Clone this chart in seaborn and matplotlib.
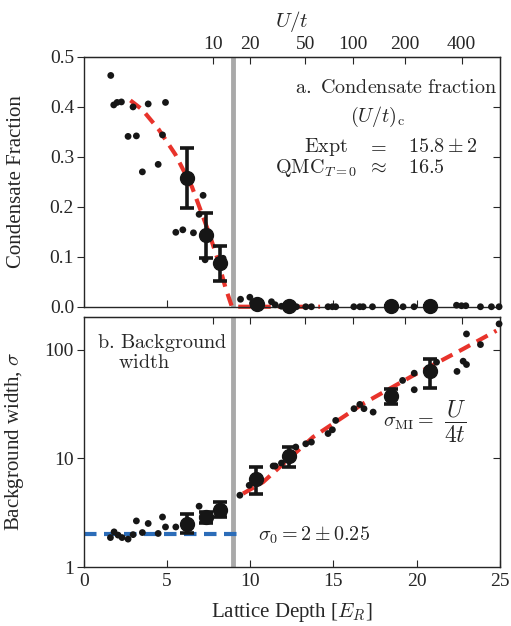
"""condensate fraction and background width vs lattice depth"""
import numpy as np
import matplotlib
matplotlib.use("Agg")
import matplotlib.pyplot as plt
import matplotlib.ticker as mticker
import seaborn as sns

# --- data ---
# U/t axis: tick values and the lattice depth where each sits
ut_ticks = [10, 20, 50, 100, 200, 400]
ut_depth = [7.75, 10.0, 13.3, 16.2, 19.3, 22.7]

# a. condensate fraction, single shots
cf_depth = [1.62, 1.80, 2.0, 2.26, 2.66, 2.96, 3.16, 3.52, 3.87, 4.47,
            4.73, 4.91, 5.53, 5.95, 6.59, 6.93, 7.17, 7.29, 8.37, 9.42,
            9.98, 10.14, 11.28, 11.5, 11.88, 12.78, 13.34, 13.68, 14.68, 14.94,
            15.14, 16.23, 16.59, 16.79, 17.35, 19.19, 19.85, 22.4, 22.7, 22.96,
            23.84, 24.5, 24.96]
cf_frac = [0.463, 0.404, 0.409, 0.41, 0.341, 0.40, 0.342, 0.27, 0.406, 0.285,
           0.344, 0.409, 0.149, 0.154, 0.148, 0.185, 0.223, 0.094, 0.097, 0.015,
           0.019, 0.007, 0.01, 0.004, 0.001, 0, 0, 0, 0, 0,
           0, 0, 0, 0, 0, 0, 0, 0.003, 0.002, 0.002,
           0, 0, 0]
# averaged points with error bars
cf_avg_depth = [6.23, 7.37, 8.19, 10.4, 12.34, 18.49, 20.79]
cf_avg_frac = [0.257, 0.143, 0.087, 0.005, 0.001, 0.001, 0.001]
cf_avg_err = [0.06, 0.045, 0.035, 0.004, 0.0, 0.0, 0.0]
# fit curve
cf_fit_depth = [2.8, 3.5, 4.5, 5.5, 6.5, 7.5, 8.0, 8.5, 8.9, 9.5, 14.2]
cf_fit_frac = [0.413, 0.395, 0.355, 0.305, 0.24, 0.15, 0.10, 0.04, 0.0, 0.0, 0.0]

# b. background width, single shots
bw_depth = [1.6, 1.82, 2.06, 2.3, 2.66, 2.96, 3.16, 3.52, 3.87, 4.47,
            4.73, 4.91, 5.53, 6.93, 9.38, 9.94, 11.38, 11.5, 11.88, 12.74,
            13.34, 13.68, 14.68, 14.94, 15.14, 16.24, 16.59, 16.84, 17.39, 19.16,
            19.86, 19.86, 21.2, 22.43, 22.8, 23.0, 23.0, 23.84, 24.96]
bw_sigma = [1.87, 2.11, 1.97, 1.87, 1.81, 1.99, 2.66, 2.08, 2.52, 2.04,
            2.89, 2.34, 2.34, 3.63, 4.58, 5.65, 8.5, 8.5, 9.05, 12.7,
            13.6, 14.1, 16.9, 18.3, 22.3, 28.6, 31.3, 28.6, 26.6, 52,
            42.7, 60.6, 76.5, 62.9, 78.1, 72.8, 139, 111, 172]
bw_avg_depth = [6.23, 7.37, 8.19, 10.34, 12.36, 18.49, 20.83]
bw_avg_sigma = [2.48, 2.89, 3.33, 6.51, 10.5, 37.1, 64.1]
bw_avg_lo = [2.04, 2.52, 2.89, 4.75, 8.3, 31.3, 44.5]
bw_avg_hi = [3.11, 3.21, 3.97, 8.33, 12.7, 43.6, 82.2]
# sigma_MI = U/4t line and sigma_0 line
mi_depth = [9.57, 10.78, 13.78, 16.79, 19.79, 22.79, 24.8]
mi_sigma = [4.74, 6.06, 15.7, 31.8, 57.7, 101, 149]
s0_depth = [0, 9.4]
s0_sigma = [2, 2]

transition = 8.95

# --- style ---
sns.set_style("ticks")
plt.rcParams["font.family"] = ["Liberation Serif", "DejaVu Serif"]
plt.rcParams["mathtext.fontset"] = "cm"
plt.rcParams["font.size"] = 14

dot_c = "#161616"
red = "#e8332b"
blue = "#2b6cb8"
grey = "#a9a9a9"
ann = 14.5  # annotation size

# U/t <-> lattice depth, from the tick positions: ln(U/t) linear in sqrt(V)
b, a = np.polyfit(np.sqrt(ut_depth), np.log(ut_ticks), 1)


def depth_to_ut(v):
    v = np.clip(np.asarray(v, dtype=float), 0, None)
    return np.exp(a + b * np.sqrt(v))


def ut_to_depth(u):
    u = np.clip(np.asarray(u, dtype=float), 1e-6, None)
    return np.clip((np.log(u) - a) / b, 0, None) ** 2


fig = plt.figure(figsize=(5.11, 6.26), dpi=100)
ax1 = fig.add_axes([0.164, 0.510, 0.814, 0.399])
ax2 = fig.add_axes([0.164, 0.094, 0.814, 0.400])

# ---------- a. condensate fraction ----------
ax1.axvline(transition, color=grey, lw=3.5, zorder=1)
sns.lineplot(x=cf_fit_depth, y=cf_fit_frac, ax=ax1, color=red, lw=3,
             linestyle=(0, (3, 1.8)), zorder=2, clip_on=False)
sns.scatterplot(x=cf_depth, y=cf_frac, ax=ax1, s=24, color=dot_c,
                edgecolor="none", zorder=3, clip_on=False)
ax1.errorbar(cf_avg_depth, cf_avg_frac, yerr=cf_avg_err, fmt="o", ms=10,
             color=dot_c, elinewidth=2.6, capsize=5, capthick=2.6,
             zorder=4, clip_on=False)

ax1.set_xlim(0, 25)
ax1.set_ylim(0, 0.5)
ax1.set_yticks([0.0, 0.1, 0.2, 0.3, 0.4, 0.5])
ax1.yaxis.set_major_formatter(mticker.FormatStrFormatter("%.1f"))
ax1.set_xticks([0, 5, 10, 15, 20, 25])
ax1.tick_params(axis="x", direction="in", labelbottom=False, length=5)
ax1.tick_params(axis="y", direction="out", length=5, pad=2)
ax1.set_ylabel("Condensate Fraction", fontsize=15)
ax1.yaxis.set_label_coords(-0.14, 0.5)

top = ax1.secondary_xaxis("top", functions=(depth_to_ut, ut_to_depth))
top.set_xticks(ut_ticks)
top.set_xticklabels([str(t) for t in ut_ticks])
top.xaxis.set_minor_locator(mticker.NullLocator())
top.tick_params(direction="in", length=5, pad=3)
top.set_xlabel("$U/t$", labelpad=6, fontsize=15)

r1 = ax1.secondary_yaxis("right")
r1.set_yticks([0.1, 0.2, 0.3, 0.4])
r1.tick_params(direction="in", length=5, labelright=False)

kw = dict(transform=ax1.transAxes, va="baseline", fontsize=ann)
ax1.text(0.507, 0.856, r"$\mathrm{a.\ Condensate\ fraction}$", ha="left", **kw)
ax1.text(0.64, 0.74, r"$(U/t)_{\rm c}$", ha="left", **kw)
ax1.text(0.635, 0.62, r"$\mathrm{Expt}$", ha="right", **kw)
ax1.text(0.704, 0.62, "$=$", ha="center", **kw)
ax1.text(0.779, 0.62, r"$15.8 \pm 2$", ha="left", **kw)
ax1.text(0.656, 0.536, r"${\rm QMC}_{T=0}$", ha="right", **kw)
ax1.text(0.704, 0.536, r"$\approx$", ha="center", **kw)
ax1.text(0.779, 0.536, "$16.5$", ha="left", **kw)

# ---------- b. background width ----------
ax2.axvline(transition, color=grey, lw=3.5, zorder=1)
sns.lineplot(x=s0_depth, y=s0_sigma, ax=ax2, color=blue, lw=3,
             linestyle=(0, (3, 1.8)), zorder=2)
sns.lineplot(x=mi_depth, y=mi_sigma, ax=ax2, color=red, lw=3,
             linestyle=(0, (3, 1.8)), zorder=2)
sns.scatterplot(x=bw_depth, y=bw_sigma, ax=ax2, s=24, color=dot_c,
                edgecolor="none", zorder=3, clip_on=False)
yerr = [np.subtract(bw_avg_sigma, bw_avg_lo), np.subtract(bw_avg_hi, bw_avg_sigma)]
ax2.errorbar(bw_avg_depth, bw_avg_sigma, yerr=yerr, fmt="o", ms=10,
             color=dot_c, elinewidth=2.6, capsize=5, capthick=2.6, zorder=4)

ax2.set_yscale("log")
ax2.set_xlim(0, 25)
ax2.set_ylim(1, 200)
ax2.set_yticks([1, 10, 100])
ax2.yaxis.set_major_formatter(mticker.FormatStrFormatter("%d"))
ax2.yaxis.set_minor_locator(mticker.NullLocator())
ax2.set_xticks([0, 5, 10, 15, 20, 25])
ax2.tick_params(axis="x", direction="in", length=5, pad=4)
ax2.tick_params(axis="y", direction="out", length=5, pad=2)
ax2.set_xlabel("Lattice Depth [$E_R$]", fontsize=15)
ax2.xaxis.set_label_coords(0.5, -0.135)
ax2.set_ylabel(r"Background width, $\sigma$", fontsize=15)
ax2.yaxis.set_label_coords(-0.14, 0.5)

top2 = ax2.secondary_xaxis("top", functions=(depth_to_ut, ut_to_depth))
top2.set_xticks(ut_ticks)
top2.xaxis.set_minor_locator(mticker.NullLocator())
top2.tick_params(direction="in", length=5, labeltop=False)

r2 = ax2.secondary_yaxis("right")
r2.set_yticks([10, 100])
r2.yaxis.set_minor_locator(mticker.NullLocator())
r2.tick_params(direction="in", length=5, labelright=False)

kw = dict(transform=ax2.transAxes, va="baseline", fontsize=ann)
ax2.text(0.031, 0.876, r"$\mathrm{b.\,Background}$", ha="left", **kw)
ax2.text(0.082, 0.796, r"$\mathrm{width}$", ha="left", **kw)
ax2.text(0.719, 0.56, r"$\sigma_{\rm MI} =$", ha="left", **kw)
ax2.text(0.892, 0.58, r"$\dfrac{U}{4t}$", transform=ax2.transAxes,
         ha="center", va="center", fontsize=17)
ax2.text(0.418, 0.108, r"$\sigma_0 = 2 \pm 0.25$", ha="left", **kw)

for ax in (ax1, ax2):
    for sp in ax.spines.values():
        sp.set_visible(True)
        sp.set_linewidth(1.0)

fig.savefig("out.png", dpi=100)
